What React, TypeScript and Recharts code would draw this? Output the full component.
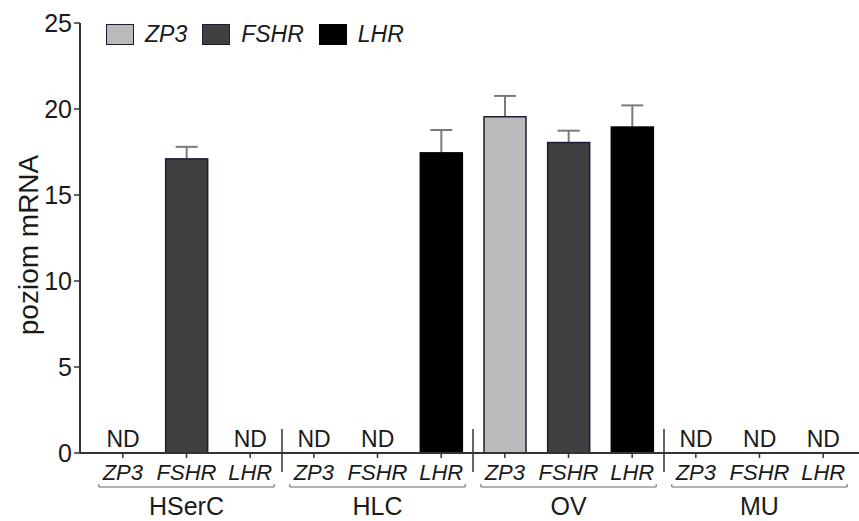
import { Bar, BarChart, Cell, LabelList, XAxis, YAxis } from 'recharts'

const GROUPS = ['HSerC', 'HLC', 'OV', 'MU']
const GENES = ['ZP3', 'FSHR', 'LHR']
const GENE_COLORS = ['#bababa', '#404040', '#000000']

// mean mRNA level per gene (ZP3, FSHR, LHR); null = not detected (ND)
const HSERC_MEAN = [null, 17.1, null]
const HLC_MEAN = [null, null, 17.45]
const OV_MEAN = [19.55, 18.05, 18.95]
const MU_MEAN = [null, null, null]

// upper error (SD)
const HSERC_SD = [null, 0.7, null]
const HLC_SD = [null, null, 1.33]
const OV_SD = [1.21, 0.69, 1.26]
const MU_SD = [null, null, null]

const Y_TICKS = [0, 5, 10, 15, 20, 25]

const MEANS = [HSERC_MEAN, HLC_MEAN, OV_MEAN, MU_MEAN]
const SDS = [HSERC_SD, HLC_SD, OV_SD, MU_SD]

const data = GROUPS.flatMap((group, gi) =>
  GENES.map((gene, k) => ({
    key: `${group}-${gene}`,
    group,
    gene,
    geneIdx: k,
    value: MEANS[gi][k] ?? 0,
    sd: SDS[gi][k],
    label: MEANS[gi][k] == null ? 'ND' : '',
  })),
)

const W = 859
const H = 521
const AXIS_W = 80
const TOP = 23
const X_AXIS_H = 68
const PAD_L = 11
const PAD_R = 4
const SLOT = (W - AXIS_W - PAD_L - PAD_R) / data.length
const TICK = 5

const FONT = '"Liberation Sans", Arial, Helvetica, sans-serif'
const INK = '#1a1a1a'

function GeneTick(props: any) {
  const { x, y, index } = props
  const row = data[index]
  const axisY = y - TICK
  const k = row.geneIdx
  return (
    <g fontFamily={FONT}>
      <text
        x={x}
        y={axisY + 27}
        textAnchor="middle"
        fontSize={22}
        fontStyle="italic"
        fill={INK}
      >
        {row.gene}
      </text>
      {k === 0 && index > 0 && (
        <line
          x1={x - SLOT / 2}
          x2={x - SLOT / 2}
          y1={axisY - 24}
          y2={axisY + 19}
          stroke="#333"
          strokeWidth={1.5}
        />
      )}
      {k === 1 && (
        <>
          <path
            d={`M${x - SLOT - 24},${axisY + 31} L${x - SLOT - 24},${axisY + 34} L${x + SLOT + 24},${axisY + 34} L${x + SLOT + 24},${axisY + 31}`}
            fill="none"
            stroke="#666"
            strokeWidth={1}
          />
          <text
            x={x}
            y={axisY + 62}
            textAnchor="middle"
            fontSize={25}
            fill={INK}
          >
            {row.group}
          </text>
        </>
      )}
    </g>
  )
}

function BarWithError(props: any) {
  const { x, y, width, height, payload, fill } = props
  if (!payload || payload.value <= 0) return null
  const pxPerUnit = height / payload.value
  const errTop = y - (payload.sd ?? 0) * pxPerUnit
  const cx = x + width / 2
  return (
    <g>
      {payload.sd != null && (
        <g stroke="#7a7a7a" strokeWidth={2}>
          <line x1={cx} x2={cx} y1={errTop} y2={y} />
          <line x1={cx - 11} x2={cx + 11} y1={errTop} y2={errTop} />
        </g>
      )}
      <rect
        x={x}
        y={y}
        width={width}
        height={height}
        fill={fill}
        stroke={payload.geneIdx === 2 ? '#000' : '#1c1c33'}
        strokeWidth={1.5}
      />
    </g>
  )
}

function NdLabel(props: any) {
  const { x, y, width, value } = props
  if (!value) return null
  return (
    <text
      x={x + width / 2}
      y={y - 6}
      textAnchor="middle"
      fontSize={23}
      fontFamily={FONT}
      fill={INK}
    >
      {value}
    </text>
  )
}

function LegendBox() {
  return (
    <div
      style={{
        position: 'absolute',
        left: 106,
        top: 21,
        display: 'flex',
        alignItems: 'center',
        gap: 15,
        fontFamily: FONT,
        fontSize: 23,
        fontStyle: 'italic',
        color: INK,
      }}
    >
      {GENES.map((g, i) => (
        <span key={g} style={{ display: 'inline-flex', alignItems: 'center', gap: 11 }}>
          <span
            style={{
              boxSizing: 'border-box',
              width: 28,
              height: 21,
              background: GENE_COLORS[i],
              border: `1.5px solid ${i === 2 ? '#000' : '#1c1c33'}`,
              display: 'inline-block',
            }}
          />
          {g}
        </span>
      ))}
    </div>
  )
}

export default function App() {
  return (
    <div style={{ position: 'relative', width: W, height: H, background: '#fff' }}>
      <style>{'body{margin:0}'}</style>
      <BarChart
        width={W}
        height={H}
        data={data}
        margin={{ top: TOP, right: 0, bottom: 0, left: 0 }}
        barSize={42}
      >
        <XAxis
          dataKey="key"
          type="category"
          interval={0}
          height={X_AXIS_H}
          padding={{ left: PAD_L, right: PAD_R }}
          axisLine={{ stroke: '#333', strokeWidth: 2 }}
          tickLine={{ stroke: '#333', strokeWidth: 1.5 }}
          tickSize={TICK}
          tickMargin={0}
          tick={<GeneTick />}
        />
        <YAxis
          type="number"
          domain={[0, 25]}
          ticks={Y_TICKS}
          width={AXIS_W}
          axisLine={{ stroke: '#333', strokeWidth: 2 }}
          tickLine={{ stroke: '#333', strokeWidth: 1.5 }}
          tickSize={6}
          tickMargin={2}
          tick={{ fontSize: 25, fill: INK, fontFamily: FONT }}
          label={{
            content: (p: any) => {
              const vb = p.viewBox
              const cy = vb.y + vb.height / 2 + 7
              return (
                <text
                  x={28}
                  y={cy}
                  transform={`rotate(-90, 28, ${cy})`}
                  textAnchor="middle"
                  dominantBaseline="central"
                  fontSize={28}
                  fontFamily={FONT}
                  fill={INK}
                >
                  poziom mRNA
                </text>
              )
            },
          }}
        />
        <Bar dataKey="value" isAnimationActive={false} shape={<BarWithError />}>
          {data.map((d) => (
            <Cell key={d.key} fill={GENE_COLORS[d.geneIdx]} />
          ))}
          <LabelList dataKey="label" content={<NdLabel />} />
        </Bar>
      </BarChart>
      <LegendBox />
    </div>
  )
}
